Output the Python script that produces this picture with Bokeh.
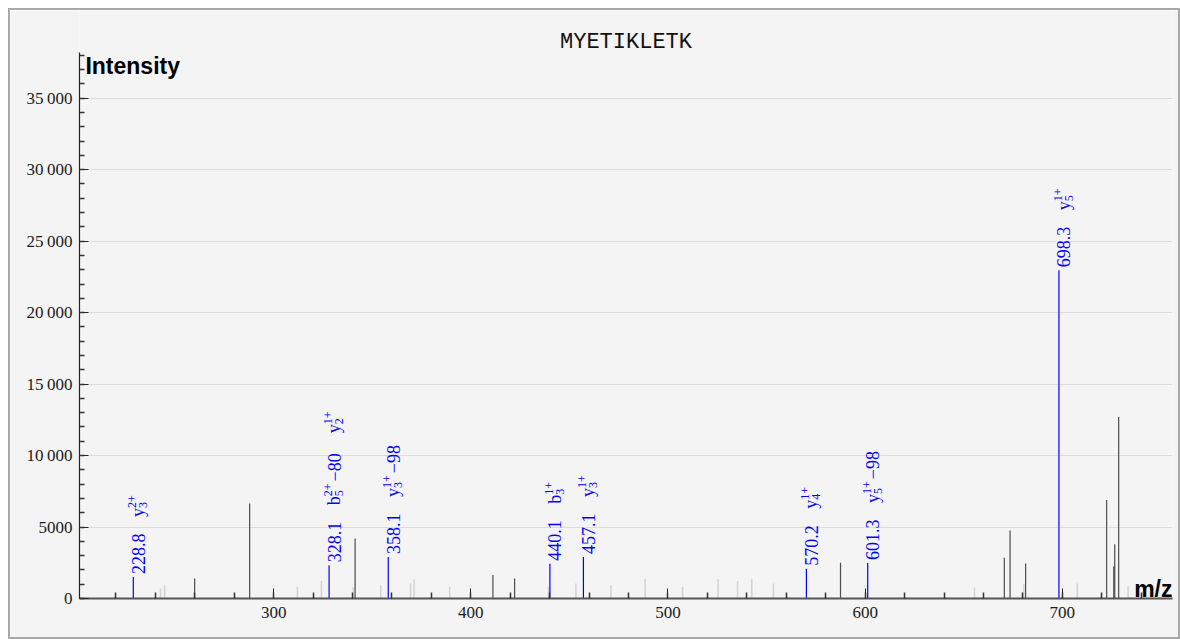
import math
from bokeh.plotting import figure
from bokeh.models import ColumnDataSource, FixedTicker, Label
from bokeh.core.properties import value
from bokeh.embed import file_html
from bokeh.resources import INLINE

title_text = "MYETIKLETK"
x_label = "m/z"
y_label = "Intensity"

# unannotated peaks (dark grey)
dark_mz = [259.9, 287.8, 341.3, 411.2, 422.2, 587.5, 670.6, 673.5, 681.4, 722.5, 726.1, 726.6, 728.6]
dark_int = [1400, 6650, 4200, 1650, 1400, 2500, 2850, 4750, 2450, 6900, 2250, 3800, 12700]

# unannotated low peaks (light grey)
light_mz = [242.6, 244.7, 312.0, 324.2, 340.4, 354.3, 369.4, 371.2, 389.3, 439.4, 453.3, 471.1,
            488.4, 507.4, 525.4, 535.3, 542.5, 553.5, 655.5, 680.5, 707.6, 733.4, 738.9]
light_int = [700, 930, 820, 1250, 800, 930, 1050, 1350, 820, 820, 1050, 930,
             1350, 800, 1350, 1200, 1350, 1050, 770, 1000, 1050, 850, 700]

# annotated peaks (blue)
anno_mz = [228.8, 328.1, 358.1, 440.1, 457.1, 570.2, 601.3, 698.3]
anno_int = [1510, 2330, 2910, 2430, 2910, 2080, 2490, 22960]
anno_ions = [
    [("y", "3", "2+", "")],
    [("b", "5", "2+", "\u221280"), ("y", "2", "1+", "")],
    [("y", "3", "1+", "\u221298")],
    [("b", "3", "1+", "")],
    [("y", "3", "1+", "")],
    [("y", "4", "1+", "")],
    [("y", "5", "1+", "\u221298")],
    [("y", "5", "1+", "")],
]

y_ticks = [0, 5000, 10000, 15000, 20000, 25000, 30000, 35000]
y_tick_labels = ["0", "5000", "10\u2009000", "15\u2009000", "20\u2009000", "25\u2009000", "30\u2009000", "35\u2009000"]
x_ticks = [300, 400, 500, 600, 700]

AXIS_TOP = 38200
X0, X1 = 201.5, 755.9
Y0, Y1 = 0, AXIS_TOP * 588 / 546

p = figure(width=1172, height=631, x_range=(X0, X1), y_range=(Y0, Y1),
           output_backend="svg", toolbar_location=None, title=None,
           min_border_left=69, min_border_right=10, min_border_top=0, min_border_bottom=43,
           background_fill_color="#f4f4f4", border_fill_color="#f4f4f4",
           styles={"margin": "8px 0 0 8px", "border": "2px solid #a9a9a9", "overflow": "hidden"})
p.outline_line_color = None

p.xaxis.ticker = FixedTicker(ticks=x_ticks, minor_ticks=list(range(200, 760, 20)))
p.yaxis.ticker = FixedTicker(ticks=y_ticks, minor_ticks=list(range(0, 39000, 1000)))
p.yaxis.major_label_overrides = {t: l for t, l in zip(y_ticks, y_tick_labels)}
p.yaxis.bounds = (0, AXIS_TOP)

for ax in (p.xaxis[0], p.yaxis[0]):
    ax.major_tick_out = 0
    ax.minor_tick_out = 0
    ax.major_label_text_font = "Liberation Serif"
    ax.major_label_text_font_size = "17px"
    ax.major_label_text_color = "#1a1a1a"
    ax.major_tick_line_color = "#222222"
    ax.minor_tick_line_color = "#333333"
    ax.minor_tick_line_width = 1.5

p.xaxis.major_tick_in = 10
p.xaxis.minor_tick_in = 6
p.xaxis.axis_line_width = 2
p.xaxis.axis_line_color = "#555555"
p.xaxis.major_label_standoff = 8

p.yaxis.major_tick_in = 9
p.yaxis.minor_tick_in = 5
p.yaxis.axis_line_color = "#222222"
p.yaxis.axis_line_width = 1.2
p.yaxis.major_label_standoff = 7

p.xgrid.visible = False
p.ygrid.grid_line_color = "#dcdcdc"
p.ygrid.grid_line_width = 1

# peaks
p.segment(x0="mz", y0=0, x1="mz", y1="inten",
          source=ColumnDataSource(dict(mz=light_mz, inten=light_int)),
          line_color="#d4d4d4", line_width=1.6)
p.segment(x0="mz", y0=0, x1="mz", y1="inten",
          source=ColumnDataSource(dict(mz=dark_mz, inten=dark_int)),
          line_color="#4d4d4d", line_width=1.2)
p.segment(x0="mz", y0=0, x1="mz", y1="inten",
          source=ColumnDataSource(dict(mz=anno_mz, inten=anno_int)),
          line_color="#0000ff", line_width=1.2)

# annotation texts, rotated, built from pieces
BASE, SCRIPT = 18, 12
def tw(s, size):
    widths = {"+": 0.564, "\u2212": 0.564, ".": 0.25}
    return sum(widths.get(c, 0.5) for c in s) * size

base = dict(x=[], y=[], t=[], xo=[], yo=[])
scr = dict(x=[], y=[], t=[], xo=[], yo=[])
def add(d, mz, it, t, xo, yo):
    d["x"].append(mz); d["y"].append(it); d["t"].append(t); d["xo"].append(xo); d["yo"].append(yo)

for mz, it, ions in zip(anno_mz, anno_int, anno_ions):
    add(base, mz, it, f"{mz:.1f}", 5, -3)
    a = 60
    for ion, sub, sup, loss in ions:
        add(base, mz, it, ion, 5, -a)
        a += tw(ion, BASE)
        add(scr, mz, it, sup, -1, -a)
        add(scr, mz, it, sub, 10, -a)
        a += max(tw(sup, SCRIPT), tw(sub, SCRIPT))
        if loss:
            a += 2
            add(base, mz, it, loss, 5, -a)
            a += tw(loss, BASE)
        a += 20

p.text(x="x", y="y", text="t", x_offset="xo", y_offset="yo", source=ColumnDataSource(base),
       angle=math.pi / 2, text_align="left", text_baseline="alphabetic",
       text_font=value("Liberation Serif"), text_font_size=f"{BASE}px", text_color="#0000ff")
p.text(x="x", y="y", text="t", x_offset="xo", y_offset="yo", source=ColumnDataSource(scr),
       angle=math.pi / 2, text_align="left", text_baseline="alphabetic",
       text_font=value("Liberation Serif"), text_font_size=f"{SCRIPT}px", text_color="#0000ff")

# titles / axis names
p.add_layout(Label(x=(X0 + X1) / 2, y=38900, text=title_text, text_font="Liberation Mono",
                   text_font_size="22px", text_align="center", text_baseline="alphabetic",
                   text_color="#111111"))
p.add_layout(Label(x=204.5, y=37290, text=y_label, text_font="Liberation Sans",
                   text_font_style="bold", text_font_size="23px", text_align="left",
                   text_baseline="alphabetic", text_color="#000000"))
p.add_layout(Label(x=X1, y=630, text=x_label, text_font="Liberation Sans",
                   text_font_style="bold", text_font_size="23px", text_align="right",
                   text_baseline="alphabetic", text_color="#000000"))

open("out.html", "w").write(file_html(p, INLINE))
